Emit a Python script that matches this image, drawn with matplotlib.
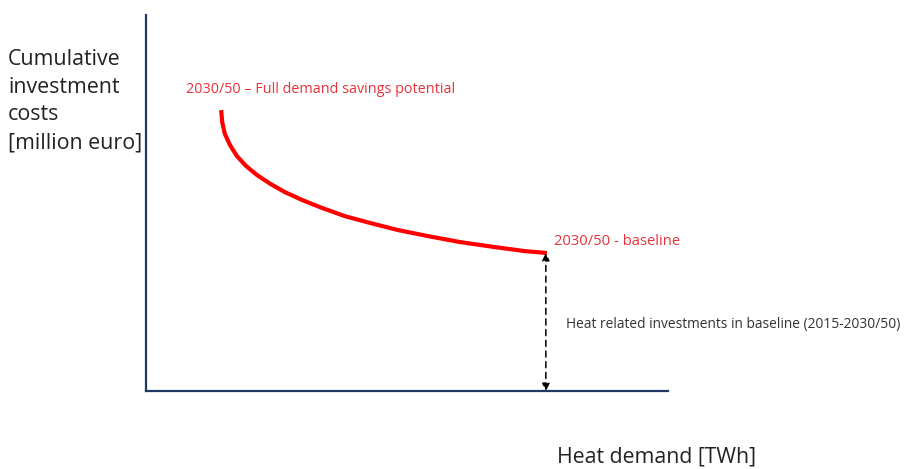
import matplotlib.pyplot as plt

# curve (heat demand vs cumulative costs, 0-100 scale)
heat_demand = [14.4, 14.6, 15.1, 16.1, 17.4, 19.2, 21.3, 23.8, 26.6, 29.9,
               33.7, 38.1, 42.9, 48.3, 54.0, 60.2, 66.7, 72.6, 76.8]
invest_cost = [74.7, 71.5, 68.4, 65.4, 62.5, 59.8, 57.4, 55.1, 52.9, 50.8,
               48.7, 46.5, 44.7, 42.8, 41.2, 39.6, 38.3, 37.2, 36.7]
baseline_x = 76.6
labels = {
    "full": "2030/50 \u2013 Full demand savings potential",
    "base": "2030/50 - baseline",
    "heat": "Heat related investments in baseline (2015-2030/50)",
}

plt.rcParams["font.family"] = ["Open Sans", "DejaVu Sans"]

fig = plt.figure(figsize=(9.16, 4.69), dpi=100)
ax = fig.add_axes([146 / 916, 1 - 391 / 469, 522 / 916, 376 / 469])

navy = "#1f3864"
red = "#e8323a"

ax.plot(heat_demand, invest_cost, color="#ff0000", lw=3,
        solid_capstyle="butt", solid_joinstyle="round")

ax.annotate("", xy=(baseline_x, 0), xytext=(baseline_x, invest_cost[-1]),
            arrowprops=dict(arrowstyle="<|-|>", color="black", lw=1.1,
                            linestyle=(0, (4, 3)), mutation_scale=11,
                            shrinkA=0, shrinkB=0))

ax.text(7.66, 80.3, labels["full"], color=red, fontsize=10.4, va="center")
ax.text(78.2, 39.7, labels["base"], color=red, fontsize=10.6, va="center")
ax.text(80.5, 17.8, labels["heat"], color="#333333", fontsize=9.9,
        va="center", clip_on=False)

ax.set_xlim(0, 100)
ax.set_ylim(0, 100)
ax.set_xticks([])
ax.set_yticks([])
for side in ["top", "right"]:
    ax.spines[side].set_visible(False)
for side in ["left", "bottom"]:
    ax.spines[side].set_color(navy)
    ax.spines[side].set_linewidth(1.6)

fig.text(8 / 916, 1 - 101 / 469,
         "Cumulative\ninvestment\ncosts\n[million euro]",
         fontsize=15.4, va="center", ha="left", linespacing=1.43,
         color="#222222")
fig.text(557 / 916, 1 - 457 / 469, "Heat demand [TWh]", fontsize=15.3,
         va="center", ha="left", color="#222222")

fig.savefig("out.png", dpi=100)
